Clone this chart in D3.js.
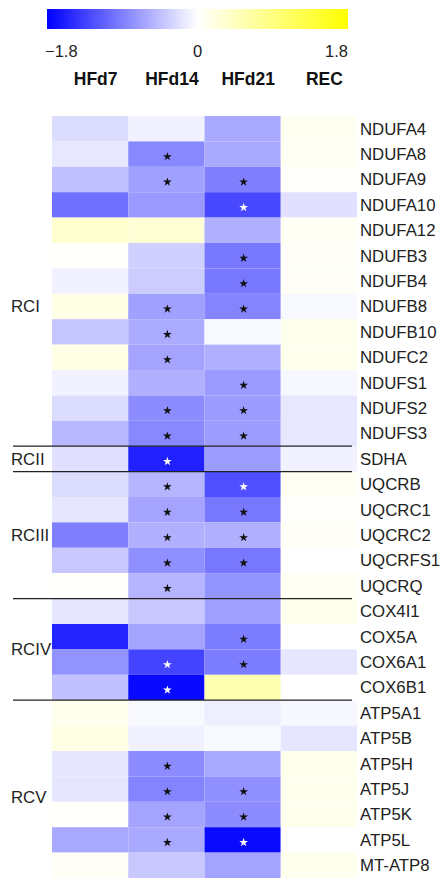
<!DOCTYPE html>
<html>
<head>
<meta charset="utf-8">
<script src="https://cdn.jsdelivr.net/npm/d3@7"></script>
<style>
  html, body { margin: 0; padding: 0; background: #fff; }
  svg { display: block; font-family: "Liberation Sans", Arial, sans-serif; }
</style>
</head>
<body>
<svg id="chart" width="443" height="880"></svg>
<script>
// Conditions (columns) and genes (rows)
const conditions = ["HFd7", "HFd14", "HFd21", "REC"];
const genes = [
  "NDUFA4", "NDUFA8", "NDUFA9", "NDUFA10", "NDUFA12", "NDUFB3", "NDUFB4",
  "NDUFB8", "NDUFB10", "NDUFC2", "NDUFS1", "NDUFS2", "NDUFS3",
  "SDHA",
  "UQCRB", "UQCRC1", "UQCRC2", "UQCRFS1", "UQCRQ",
  "COX4I1", "COX5A", "COX6A1", "COX6B1",
  "ATP5A1", "ATP5B", "ATP5H", "ATP5J", "ATP5K", "ATP5L", "MT-ATP8"
];

// log2 fold change per condition, one value per gene
const hfd7 = [-0.25, -0.17, -0.44, -1.01, 0.33, 0.03, -0.10, 0.18, -0.41, 0.18, -0.10, -0.25, -0.50,
  -0.21, -0.25, -0.18, -0.90, -0.39, 0.03, -0.18, -1.55, -0.76, -0.44,
  0.13, 0.20, -0.18, -0.18, 0.03, -0.61, 0.05];
const hfd14 = [-0.10, -0.84, -0.67, -0.72, 0.30, -0.33, -0.36, -0.67, -0.60, -0.64, -0.56, -0.81, -0.84,
  -1.57, -0.52, -0.64, -0.56, -0.79, -0.52, -0.39, -0.64, -1.32, -1.74,
  -0.05, -0.10, -0.81, -0.87, -0.64, -0.61, -0.39];
const hfd21 = [-0.61, -0.61, -0.90, -1.29, -0.56, -0.95, -0.95, -0.87, -0.05, -0.56, -0.71, -0.71, -0.69,
  -0.69, -1.24, -0.95, -0.56, -0.95, -0.76, -0.67, -0.92, -0.92, 0.56,
  -0.12, -0.05, -0.61, -0.79, -0.81, -1.73, -0.64];
const rec = [0.10, 0.08, 0.02, -0.21, 0.08, 0.06, 0.06, -0.05, 0.13, 0.13, -0.06, -0.17, -0.17,
  -0.10, 0.08, 0.03, 0.05, 0.00, 0.08, 0.12, 0.00, -0.18, 0.00,
  -0.06, -0.18, 0.13, 0.13, 0.13, 0.00, 0.12];

// Genes significantly changed (marked with a star)
const sigHFd14 = ["NDUFA8", "NDUFA9", "NDUFB8", "NDUFB10", "NDUFC2", "NDUFS2", "NDUFS3", "SDHA",
  "UQCRB", "UQCRC1", "UQCRC2", "UQCRFS1", "UQCRQ", "COX6A1", "COX6B1",
  "ATP5H", "ATP5J", "ATP5K", "ATP5L"];
const sigHFd21 = ["NDUFA9", "NDUFA10", "NDUFB3", "NDUFB4", "NDUFB8", "NDUFS1", "NDUFS2", "NDUFS3",
  "UQCRB", "UQCRC1", "UQCRC2", "UQCRFS1", "COX5A", "COX6A1",
  "ATP5J", "ATP5K", "ATP5L"];

// Respiratory chain complexes: first/last gene and where the label sits
const complexes = ["RCI", "RCII", "RCIII", "RCIV", "RCV"];
const complexFirst = ["NDUFA4", "SDHA", "UQCRB", "COX4I1", "ATP5A1"];
const complexLast = ["NDUFS3", "SDHA", "UQCRQ", "COX6B1", "MT-ATP8"];
const complexLabelGene = ["NDUFB8", "SDHA", "UQCRC2", "COX6A1", "ATP5J"];

// Legend ticks
const legendTicks = [-1.8, 0, 1.8];

const valuesByCondition = { HFd7: hfd7, HFd14: hfd14, HFd21: hfd21, REC: rec };
const sigByCondition = { HFd14: sigHFd14, HFd21: sigHFd21 };

const cells = [];
conditions.forEach(c => {
  genes.forEach((g, i) => {
    const sig = (sigByCondition[c] || []).includes(g);
    cells.push({ condition: c, gene: g, value: valuesByCondition[c][i], sig });
  });
});

const svg = d3.select("#chart");
const color = d3.scaleLinear()
  .domain([-1.8, 0, 1.8])
  .range(["#0000ff", "#ffffff", "#ffff00"])
  .clamp(true);

const x = d3.scaleBand().domain(conditions).range([52, 357]);
const y = d3.scaleBand().domain(genes).range([116, 878]);

// ---- colour legend ----
const legendX = d3.scaleLinear().domain([-1.8, 1.8]).range([47, 348]);
const defs = svg.append("defs");
const grad = defs.append("linearGradient").attr("id", "legendGrad");
d3.range(0, 1.0001, 0.05).forEach(t => {
  const v = -1.8 + 3.6 * t;
  grad.append("stop").attr("offset", (t * 100) + "%").attr("stop-color", color(v));
});
svg.append("rect")
  .attr("x", legendX(-1.8)).attr("y", 9)
  .attr("width", legendX(1.8) - legendX(-1.8)).attr("height", 20)
  .attr("fill", "url(#legendGrad)");

svg.append("g").selectAll("text")
  .data(legendTicks)
  .join("text")
  .attr("x", d => legendX(d) + (d < 0 ? -2 : 0))
  .attr("y", 57)
  .attr("text-anchor", (d, i) => i === 0 ? "start" : (i === legendTicks.length - 1 ? "end" : "middle"))
  .attr("font-size", 16.5)
  .attr("fill", "#222")
  .text(d => d3.format("")(d));

// ---- column headers ----
svg.append("g").selectAll("text")
  .data(conditions)
  .join("text")
  .attr("x", d => x(d) + x.bandwidth() / 2 + 5.5)
  .attr("y", 85)
  .attr("text-anchor", "middle")
  .attr("font-size", 17.5)
  .attr("font-weight", "bold")
  .attr("fill", "#111")
  .text(d => d);

// ---- heatmap cells ----
svg.append("g").selectAll("rect")
  .data(cells)
  .join("rect")
  .attr("x", d => x(d.condition))
  .attr("y", d => y(d.gene))
  .attr("width", x.bandwidth())
  .attr("height", y.bandwidth())
  .attr("fill", d => color(d.value));

// ---- significance stars ----
const star = d3.symbol().type(d3.symbolStar).size(24);
svg.append("g").selectAll("path")
  .data(cells.filter(d => d.sig))
  .join("path")
  .attr("transform", d => `translate(${x(d.condition) + x.bandwidth() / 2 + 1},${y(d.gene) + y.bandwidth() / 2 + 2.5})`)
  .attr("d", star)
  .attr("fill", d => d.value < -1.1 ? "#ffffff" : "#111");

// ---- gene labels ----
svg.append("g").selectAll("text")
  .data(genes)
  .join("text")
  .attr("x", 360)
  .attr("y", d => y(d) + y.bandwidth() / 2)
  .attr("dy", "0.35em")
  .attr("font-size", 16.8)
  .attr("fill", "#222")
  .text(d => d);

// ---- complex separators and labels ----
const sepGenes = complexLast.slice(0, -1);
svg.append("g").selectAll("line")
  .data(sepGenes)
  .join("line")
  .attr("x1", 13).attr("x2", 352)
  .attr("y1", d => y(d) + y.bandwidth())
  .attr("y2", d => y(d) + y.bandwidth())
  .attr("stroke", "#222")
  .attr("stroke-width", 1.2);

const labelOffset = { RCI: 0, RCII: 0, RCIII: 0, RCIV: -y.bandwidth() / 2, RCV: 8 };
svg.append("g").selectAll("text")
  .data(complexes)
  .join("text")
  .attr("x", 11)
  .attr("y", (d, i) => y(complexLabelGene[i]) + y.bandwidth() / 2 + labelOffset[d])
  .attr("dy", "0.35em")
  .attr("font-size", 16.8)
  .attr("fill", "#222")
  .text(d => d);
</script>
</body>
</html>
